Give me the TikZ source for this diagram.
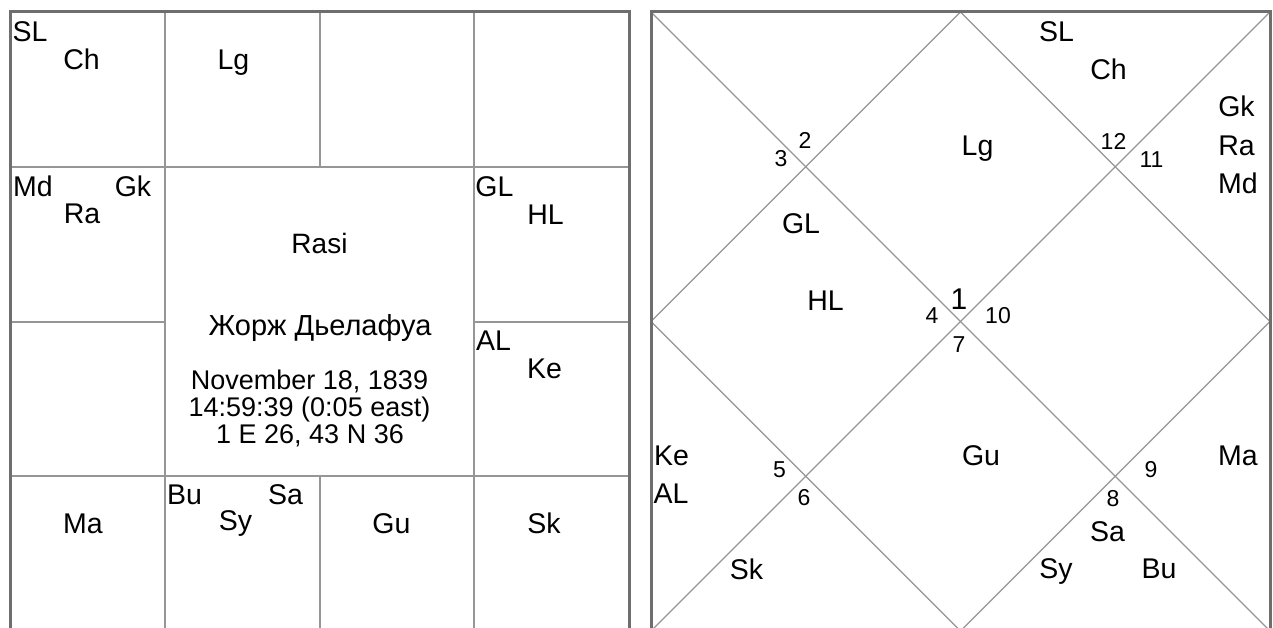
\documentclass[tikz,border=0pt]{standalone}
\usepackage{fontspec}
\setmainfont{Liberation Sans}
\definecolor{framegray}{RGB}{110,110,110}
\definecolor{linegray}{RGB}{150,150,150}
\begin{document}
\begin{tikzpicture}[x=1pt,y=-1pt,
  frame/.style={draw=framegray, line width=3pt},
  gridline/.style={draw=linegray, line width=1.1pt},
  pl/.style={inner sep=0pt, anchor=base, font=\fontsize{28.5}{33}\selectfont},
  num/.style={inner sep=0pt, anchor=base, font=\fontsize{23}{27}\selectfont},
  bignum/.style={inner sep=0pt, anchor=base, font=\fontsize{30}{35}\selectfont},
  info/.style={inner sep=0pt, anchor=base, font=\fontsize{27}{32}\selectfont},
  rasitext/.style={inner sep=0pt, anchor=base, font=\fontsize{28}{33}\selectfont},
  nametext/.style={inner sep=0pt, anchor=base, font=\fontsize{29}{34}\selectfont}]
\clip (0,0) rectangle (1273,628);
\fill[white] (0,0) rectangle (1273,628);
% ---------- left chart (South Indian) ----------
\coordinate (Ltl) at (10,12);
\coordinate (Lbr) at (629,631);
\draw[gridline] (10,167) -- (629,167);
\draw[gridline] (10,476) -- (629,476);
\draw[gridline] (10,322) -- (165,322);
\draw[gridline] (474,322) -- (629,322);
\draw[gridline] (165,12) -- (165,631);
\draw[gridline] (474,12) -- (474,631);
\draw[gridline] (320,12) -- (320,167);
\draw[gridline] (320,476) -- (320,631);
\draw[frame] (Ltl) rectangle (Lbr);
\node[pl] (lSL) at (30,42) {SL};
\node[pl] (lCh) at (81.5,70) {Ch};
\node[pl] (lLg) at (233.5,70) {Lg};
\node[pl] (lMd) at (33,197) {Md};
\node[pl] (lGk) at (133,197) {Gk};
\node[pl] (lRa) at (82,224) {Ra};
\node[pl] (lGL) at (494.5,197) {GL};
\node[pl] (lHL) at (545.5,225) {HL};
\node[pl] (lAL) at (493.5,350) {AL};
\node[pl] (lKe) at (544.5,378) {Ke};
\node[pl] (lMa) at (83,533) {Ma};
\node[pl] (lBu) at (184.5,504) {Bu};
\node[pl] (lSa) at (285.5,504) {Sa};
\node[pl] (lSy) at (235.5,530) {Sy};
\node[pl] (lGu) at (391.5,533) {Gu};
\node[pl] (lSk) at (544,533) {Sk};
\node[rasitext] (rasi) at (319.5,254) {Rasi};
\node[nametext] (nm) at (320,335) {Жорж Дьелафуа};
\node[info] (dt) at (309.5,389) {November 18, 1839};
\node[info] (tm) at (309.5,416) {14:59:39 (0:05 east)};
\node[info] (loc) at (310,443) {1 E 26, 43 N 36};
% ---------- right chart (North Indian) ----------
\coordinate (Rtl) at (651,12);
\coordinate (Rtr) at (1270,12);
\coordinate (Rbl) at (651,631);
\coordinate (Rbr) at (1270,631);
\coordinate (Rt) at (960.5,12);
\coordinate (Rr) at (1270,321.5);
\coordinate (Rb) at (960.5,631);
\coordinate (Rl) at (651,321.5);
\draw[gridline] (Rtl) -- (Rbr);
\draw[gridline] (Rtr) -- (Rbl);
\draw[gridline] (Rt) -- (Rr) -- (Rb) -- (Rl) -- cycle;
\draw[frame] (Rtl) rectangle (Rbr);
\node[pl] (rSL) at (1056.5,42) {SL};
\node[pl] (rCh) at (1108.5,80) {Ch};
\node[pl] (rGk) at (1236.5,117) {Gk};
\node[pl] (rRa) at (1236.5,156) {Ra};
\node[pl] (rMd) at (1238,194) {Md};
\node[pl] (rLg) at (977.5,156) {Lg};
\node[pl] (rGL) at (801,234) {GL};
\node[pl] (rHL) at (825.5,310) {HL};
\node[pl] (rKe) at (671.5,465) {Ke};
\node[pl] (rAL) at (671,503) {AL};
\node[pl] (rSk) at (746.5,579) {Sk};
\node[pl] (rGu) at (981,465) {Gu};
\node[pl] (rMa) at (1238,465) {Ma};
\node[pl] (rSa) at (1107.5,541) {Sa};
\node[pl] (rSy) at (1056,578) {Sy};
\node[pl] (rBu) at (1159,578) {Bu};
\node[num] (n2) at (805,149) {2};
\node[num] (n3) at (781,167) {3};
\node[num] (n12) at (1113.5,150) {12};
\node[num] (n11) at (1151.5,168) {11};
\node[bignum] (n1) at (959,309) {1};
\node[num] (n4) at (932,323) {4};
\node[num] (n10) at (998,323) {10};
\node[num] (n7) at (959,352) {7};
\node[num] (n5) at (779.5,477) {5};
\node[num] (n6) at (804,505) {6};
\node[num] (n9) at (1151,477) {9};
\node[num] (n8) at (1113,506) {8};
\end{tikzpicture}
\end{document}
